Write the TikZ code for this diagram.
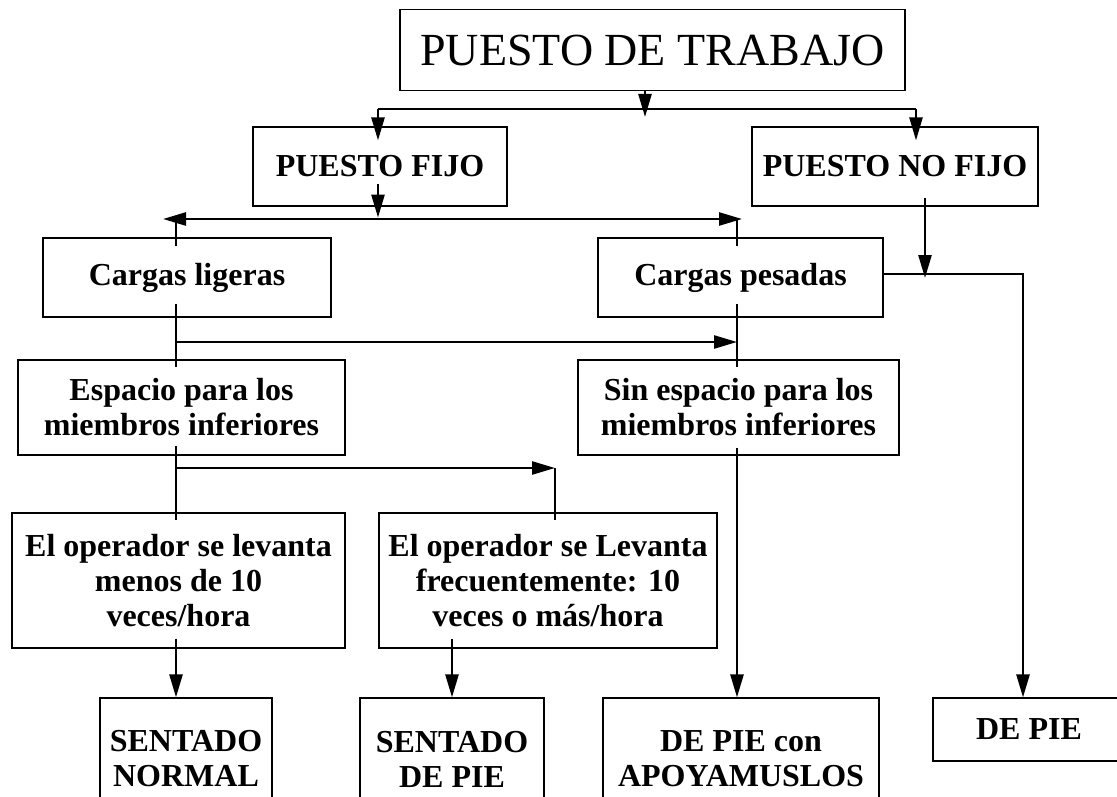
\documentclass[tikz,border=0pt]{standalone}
\usepackage{fontspec}
\setmainfont{Liberation Serif}
\usetikzlibrary{arrows.meta,calc}

\begin{document}
\begin{tikzpicture}[x=1pt, y=-1pt,
    box/.style={draw, line width=1.2pt, align=center, inner sep=0pt},
    head/.style={font=\fontsize{46}{50}\selectfont},
    lbl/.style={font=\bfseries\fontsize{32}{35}\selectfont},
    conn/.style={line width=2.5pt},
    arr/.style={line width=2.5pt, -{Triangle[length=23pt,width=13pt]}},
    darr/.style={line width=2.5pt, {Triangle[length=23pt,width=13pt]}-{Triangle[length=23pt,width=13pt]}}]
    \useasboundingbox (0,0) rectangle (1117,797);

    % Top box
    \node[box, head, minimum width=505pt, minimum height=81pt] (trabajo) at (652.5,50) {PUESTO DE TRABAJO};

    % Fixed / not fixed
    \node[box, lbl, minimum width=254pt, minimum height=79pt] (fijo) at (380,166.5) {PUESTO FIJO};
    \node[box, lbl, minimum width=286pt, minimum height=79pt] (nofijo) at (895,166.5) {PUESTO NO FIJO};

    % Loads
    \node[box, lbl, minimum width=288pt, minimum height=79pt] (ligeras) at (187,277.5) {Cargas ligeras};
    \node[box, lbl, minimum width=285pt, minimum height=79pt] (pesadas) at (740.5,277.5) {Cargas pesadas};

    % Leg room
    \node[box, lbl, minimum width=327pt, minimum height=95pt] (espacio) at (181.5,407.5) {Espacio para los\\miembros inferiores};
    \node[box, lbl, minimum width=321pt, minimum height=95pt] (sinesp) at (738.5,407.5) {Sin espacio para los\\miembros inferiores};

    % Operator gets up
    \node[box, lbl, minimum width=333pt, minimum height=135pt] (lev1) at (178.5,580.5) {El operador se levanta\\menos de 10\\veces/hora};
    \node[box, lbl, minimum width=338pt, minimum height=135pt] (lev2) at (548,580.5) {El operador se Levanta\\frecuentemente: 10\\veces o más/hora};

    % Results
    \node[box, lbl, minimum width=172pt, minimum height=122pt] (normal) at (186,759) {SENTADO\\NORMAL};
    \node[box, lbl, minimum width=184pt, minimum height=122pt] (sdepie) at (452,759) {SENTADO\\DE PIE};
    \node[box, lbl, minimum width=276pt, minimum height=122pt] (apoyo) at (741,759) {DE PIE con\\APOYAMUSLOS};
    \node[box, lbl, minimum width=192pt, minimum height=63pt] (depie) at (1029,729.5) {DE PIE};

    % Split points
    \coordinate (s0) at (645,109);
    \coordinate (sl) at (378,109);
    \coordinate (sr) at (916,109);
    \coordinate (bl) at (163,219);
    \coordinate (br) at (742,219);
    \coordinate (tl) at (176,219);
    \coordinate (tr) at (737,219);
    \coordinate (ml) at (176,342);
    \coordinate (mr) at (737,342);
    \coordinate (el) at (176,468);
    \coordinate (er) at (555,468);
    \coordinate (nf) at (925,274);
    \coordinate (nc) at (1023,274);

    % Connectors
    \draw[arr] (trabajo.south -| s0) -- ($(s0)+(0,8)$);
    \draw[conn] (sl) -- (sr);
    \draw[arr] (sl) -- ($(fijo.north -| sl)+(0,14)$);
    \draw[arr] (sr) -- ($(nofijo.north -| sr)+(0,14)$);

    \draw[arr] ($(fijo.south -| sl)+(0,-23)$) -- ($(fijo.south -| sl)+(0,11)$);
    \draw[darr] (bl) -- (br);
    \draw[conn] (tl) -- ($(ligeras.north -| tl)+(0,9)$);
    \draw[conn] (tr) -- ($(pesadas.north -| tr)+(0,9)$);

    \draw[conn] ($(ligeras.south -| ml)+(0,-14)$) -- ($(espacio.north -| ml)+(0,8)$);
    \draw[arr] (ml) -- (mr);
    \draw[conn] ($(pesadas.south -| mr)+(0,-14)$) -- ($(sinesp.north -| mr)+(0,8)$);

    \draw[conn] ($(espacio.south -| el)+(0,-10)$) -- ($(lev1.north -| el)+(0,8)$);
    \draw[arr] (el) -- (er);
    \draw[conn] (er) -- ($(lev2.north -| er)+(0,8)$);

    \draw[arr] ($(sinesp.south -| mr)+(0,-8)$) -- (apoyo.north -| mr);
    \draw[arr] ($(lev1.south -| el)+(0,-10)$) -- (normal.north -| el);
    \draw[arr] ($(lev2.south -| sdepie)+(0,-10)$) -- (sdepie.north);

    \draw[arr] ($(nofijo.south -| nf)+(0,-9)$) -- ($(nf)+(0,4)$);
    \draw[arr] (pesadas.east |- nc) -- (nc) -- (depie.north -| nc);
\end{tikzpicture}
\end{document}
